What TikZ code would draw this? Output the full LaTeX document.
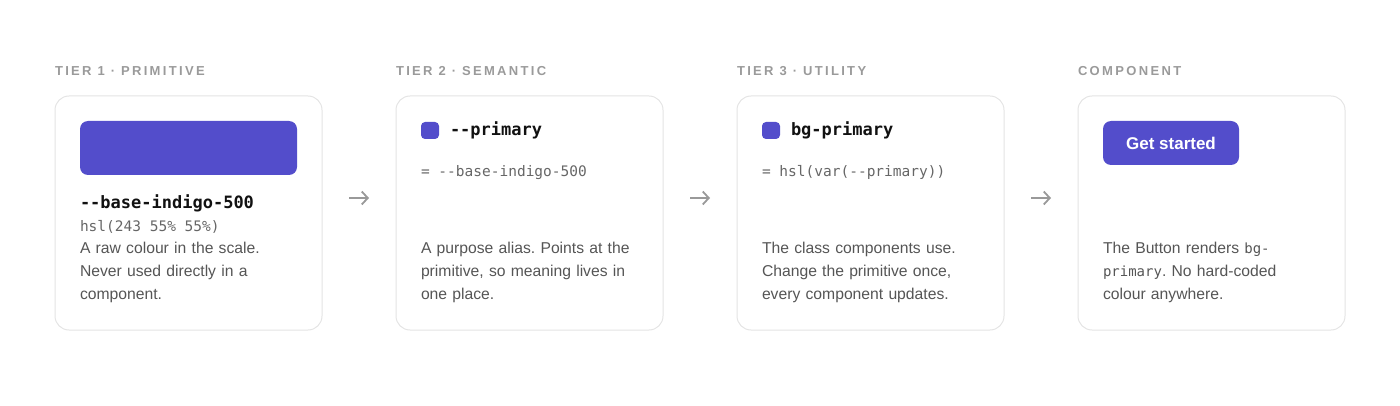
\documentclass[tikz,border=0pt]{standalone}
\usepackage{fontspec}
\setmainfont{Liberation Sans}
\setmonofont{DejaVu Sans Mono}
\newfontfamily\tierfont[LetterSpace=18]{Liberation Sans}
\usetikzlibrary{positioning,arrows.meta}
\definecolor{indigo}{HTML}{534DCB}
\definecolor{cardline}{HTML}{E4E4E4}
\definecolor{tiergray}{HTML}{9A9A9A}
\definecolor{bodygray}{HTML}{555555}
\definecolor{codegray}{HTML}{666666}
\definecolor{arrowgray}{HTML}{999999}
\definecolor{ink}{HTML}{111111}
\frenchspacing

\begin{document}
\begin{tikzpicture}[x=1pt,y=-1pt,
  every node/.style={inner sep=0pt,outer sep=0pt},
  card/.style={draw=cardline,line width=1pt,rounded corners=14pt,
    minimum width=267pt,minimum height=234pt,anchor=north west},
  tier/.style={anchor=base west,text=tiergray,
    font=\tierfont\bfseries\fontsize{13}{15}\selectfont},
  title/.style={anchor=base west,text=ink,font=\ttfamily\bfseries\fontsize{17}{20}\selectfont},
  code/.style={anchor=base west,text=codegray,font=\ttfamily\fontsize{14.5}{18}\selectfont},
  body/.style={anchor=base west,text=bodygray,text width=250pt,align=left,
    font=\fontsize{15.7}{23}\selectfont},
  chip/.style={fill=indigo,rounded corners=4pt,minimum width=18pt,
    minimum height=17pt,anchor=north west},
  flow/.style={draw=arrowgray,line width=1.8pt,-{Straight Barb[length=6pt,width=13pt]},
    shorten <=27pt,shorten >=27pt}]
\useasboundingbox (0,0) rectangle (1400,406);

% the four cards
\foreach \x/\n in {55/1,396/2,737/3,1078/4}
  \node[card] (c\n) at (\x,96) {};

% tier labels
\node[tier] (t1) at (55,76) {TIER 1 · PRIMITIVE};
\node[tier] (t2) at (396,76) {TIER 2 · SEMANTIC};
\node[tier] (t3) at (737,76) {TIER 3 · UTILITY};
\node[tier] (t4) at (1078,76) {COMPONENT};

% tier 1
\node[fill=indigo,rounded corners=8pt,minimum width=217pt,minimum height=54pt,
  anchor=north west] (sw1) at (80,121) {};
\node[title] (n1) at (80,208) {--base-indigo-500};
\node[code] (v1) at (80,232) {hsl(243 55\% 55\%)};
\node[body] (b1) at (80,254) {A raw colour in the scale.\\Never used directly in a\\component.};

% tier 2
\node[chip] (sw2) at (421,122) {};
\node[title] (n2) at (450,136) {--primary};
\node[code] (v2) at (421,177) {= --base-indigo-500};
\node[body] (b2) at (421,254) {A purpose alias. Points at the\\primitive, so meaning lives in\\one place.};

% tier 3
\node[chip] (sw3) at (762,122) {};
\node[title] (n3) at (791,136) {bg-primary};
\node[code] (v3) at (762,177) {= hsl(var(--primary))};
\node[body] (b3) at (762,254) {The class components use.\\Change the primitive once,\\every component updates.};

% component
\node[fill=indigo,rounded corners=8pt,minimum width=136pt,minimum height=44pt,
  anchor=north west,text=white,font=\bfseries\fontsize{17}{20}\selectfont] (btn) at (1103,121) {Get started};
\node[body] (b4) at (1103,254) {The Button renders {\ttfamily\fontsize{14}{23}\selectfont bg-}\\{\ttfamily\fontsize{14}{23}\selectfont primary}. No hard-coded\\colour anywhere.};

% arrows between cards
\foreach \a/\b in {1/2,2/3,3/4}
  \draw[flow] ([yshift=15pt]c\a.east) -- ([yshift=15pt]c\b.west);
\end{tikzpicture}
\end{document}
